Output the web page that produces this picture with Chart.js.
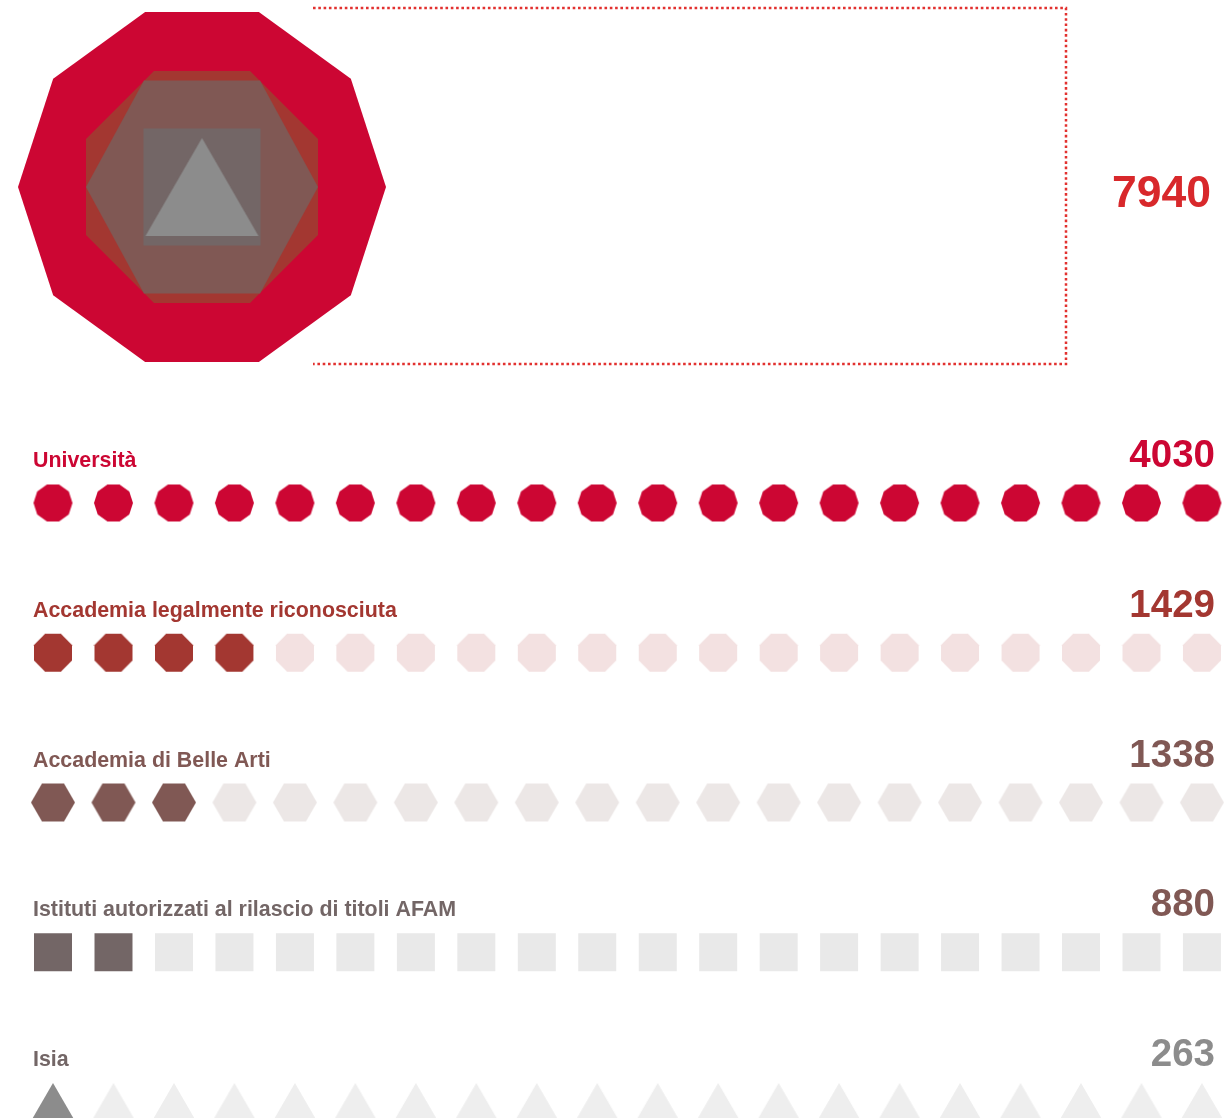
<!DOCTYPE html>
<html>
<head>
<meta charset="utf-8">
<script src="https://cdn.jsdelivr.net/npm/chart.js@4"></script>
<style>
  html, body { margin: 0; padding: 0; background: #fff; }
  #wrap { position: relative; width: 1225px; height: 1118px; overflow: hidden; }
  #top { position: absolute; left: 0; top: 0; }
  #rows { position: absolute; left: 0; top: 380px; }
</style>
</head>
<body>
<div id="wrap">
  <canvas id="top" width="1225" height="380"></canvas>
  <canvas id="rows" width="1225" height="738"></canvas>
</div>
<script>
// data
const categories = ['Università', 'Accademia legalmente riconosciuta', 'Accademia di Belle Arti', 'Istituti autorizzati al rilascio di titoli AFAM', 'Isia'];
const values = [4030, 1429, 1338, 880, 263];
const total = 7940;
const filledIcons = [20, 4, 3, 2, 1];
const iconsPerRow = 20;

// looks
const shapes = ['decagon', 'octagon', 'hexagon', 'square', 'triangle'];
const fullColors = ['#cc0633', '#a33731', '#805854', '#736666', '#8c8c8c'];
const emptyColors = ['#f3e0e1', '#f3e1e1', '#ece7e6', '#e9e9e9', '#eeeeee'];
const labelColors = ['#cc0633', '#a33731', '#805854', '#736666', '#736666'];
const numberColors = ['#cc0633', '#a33731', '#805854', '#805854', '#8c8c8c'];
// size of each shape in the big stacked figure [w, h]
const bigSizes = [[368, 350], [232, 232], [232, 213], [117, 117], [113, 98]];
const smallSizes = [[39, 37], [38, 38], [44, 38], [38, 38], [44, 38]];

function makeShape(kind, w, h, color) {
  // 1px margin so the edges get antialiased instead of cut
  const c = document.createElement('canvas');
  c.width = Math.ceil(w) + 2;
  c.height = Math.ceil(h) + 2;
  const g = c.getContext('2d');
  g.translate((c.width - w) / 2, (c.height - h) / 2);
  g.fillStyle = color;
  g.beginPath();
  const cx = w / 2, cy = h / 2;
  if (kind === 'square') {
    g.rect(0, 0, w, h);
  } else if (kind === 'triangle') {
    g.moveTo(cx, 0);
    g.lineTo(w, h);
    g.lineTo(0, h);
    g.closePath();
  } else {
    let n = 10, start = 0;
    if (kind === 'octagon') { n = 8; start = Math.PI / 8; }
    if (kind === 'hexagon') { n = 6; }
    // stretch the polygon so its bounding box fills w x h
    const pts = [];
    for (let i = 0; i < n; i++) {
      const a = start + i * 2 * Math.PI / n;
      pts.push([Math.cos(a), Math.sin(a)]);
    }
    const maxX = Math.max(...pts.map(p => p[0]));
    const maxY = Math.max(...pts.map(p => p[1]));
    pts.forEach((p, i) => {
      const x = cx + p[0] / maxX * w / 2;
      const y = cy + p[1] / maxY * h / 2;
      if (i === 0) g.moveTo(x, y); else g.lineTo(x, y);
    });
    g.closePath();
  }
  g.fill();
  return c;
}

const FONT = '"Liberation Sans", Arial, Helvetica, sans-serif';

// top: all categories stacked on one point
const topDatasets = categories.map((cat, i) => ({
  label: cat,
  data: [{ x: 0, y: 0 }],
  pointStyle: makeShape(shapes[i], bigSizes[i][0], bigSizes[i][1], fullColors[i]),
  pointRadius: 10,
  order: categories.length - i,
  clip: false
}));

const topDecor = {
  id: 'topDecor',
  afterDraw(chart) {
    const ctx = chart.ctx;
    ctx.save();
    ctx.strokeStyle = '#e2312f';
    ctx.lineWidth = 2.5;
    ctx.setLineDash([2.6, 2.7]);
    ctx.beginPath();
    ctx.moveTo(313, 8);
    ctx.lineTo(1066, 8);
    ctx.lineTo(1066, 364);
    ctx.lineTo(313, 364);
    ctx.stroke();
    ctx.setLineDash([]);
    ctx.fillStyle = '#d8282b';
    ctx.font = 'bold 44.5px ' + FONT;
    ctx.textAlign = 'right';
    ctx.textBaseline = 'alphabetic';
    ctx.fillText(String(total), 1211, 207);
    ctx.restore();
  }
};

new Chart(document.getElementById('top'), {
  type: 'scatter',
  data: { datasets: topDatasets },
  options: {
    responsive: false,
    animation: false,
    devicePixelRatio: 1,
    events: [],
    layout: { padding: 0, autoPadding: false },
    plugins: { legend: { display: false }, tooltip: { enabled: false } },
    scales: {
      x: { type: 'linear', display: false, min: -202, max: 1023 },
      y: { type: 'linear', display: false, reverse: true, min: -187, max: 193 }
    }
  },
  plugins: [topDecor]
});

// rows: one icon per slot, filled then empty
const rowDatasets = [];
categories.forEach((cat, r) => {
  const full = [], empty = [];
  for (let k = 0; k < iconsPerRow; k++) {
    (k < filledIcons[r] ? full : empty).push({ x: k, y: r });
  }
  rowDatasets.push({
    label: cat,
    data: full,
    pointStyle: makeShape(shapes[r], smallSizes[r][0], smallSizes[r][1], fullColors[r]),
    pointRadius: 10,
    clip: false
  });
  rowDatasets.push({
    label: cat + ' (rest)',
    data: empty,
    pointStyle: makeShape(shapes[r], smallSizes[r][0], smallSizes[r][1], emptyColors[r]),
    pointRadius: 10,
    clip: false
  });
});

const rowText = {
  id: 'rowText',
  afterDraw(chart) {
    const ctx = chart.ctx;
    const ys = chart.scales.y;
    ctx.save();
    ctx.textBaseline = 'alphabetic';
    categories.forEach((cat, r) => {
      const base = ys.getPixelForValue(r) - 36;
      ctx.fillStyle = labelColors[r];
      ctx.font = 'bold 21.4px ' + FONT;
      ctx.textAlign = 'left';
      ctx.fillText(cat, 33, base);
      ctx.fillStyle = numberColors[r];
      ctx.font = 'bold 38.5px ' + FONT;
      ctx.textAlign = 'right';
      ctx.fillText(String(values[r]), 1215, base);
    });
    ctx.restore();
  }
};

const unit = 149.75;
new Chart(document.getElementById('rows'), {
  type: 'scatter',
  data: { datasets: rowDatasets },
  options: {
    responsive: false,
    animation: false,
    devicePixelRatio: 1,
    events: [],
    layout: { padding: 0, autoPadding: false },
    plugins: { legend: { display: false }, tooltip: { enabled: false } },
    scales: {
      x: { type: 'linear', display: false, min: -53 / 60.47, max: (1225 - 53) / 60.47 },
      y: { type: 'linear', display: false, reverse: true, min: -123 / unit, max: (738 - 123) / unit }
    }
  },
  plugins: [rowText]
});
</script>
</body>
</html>
